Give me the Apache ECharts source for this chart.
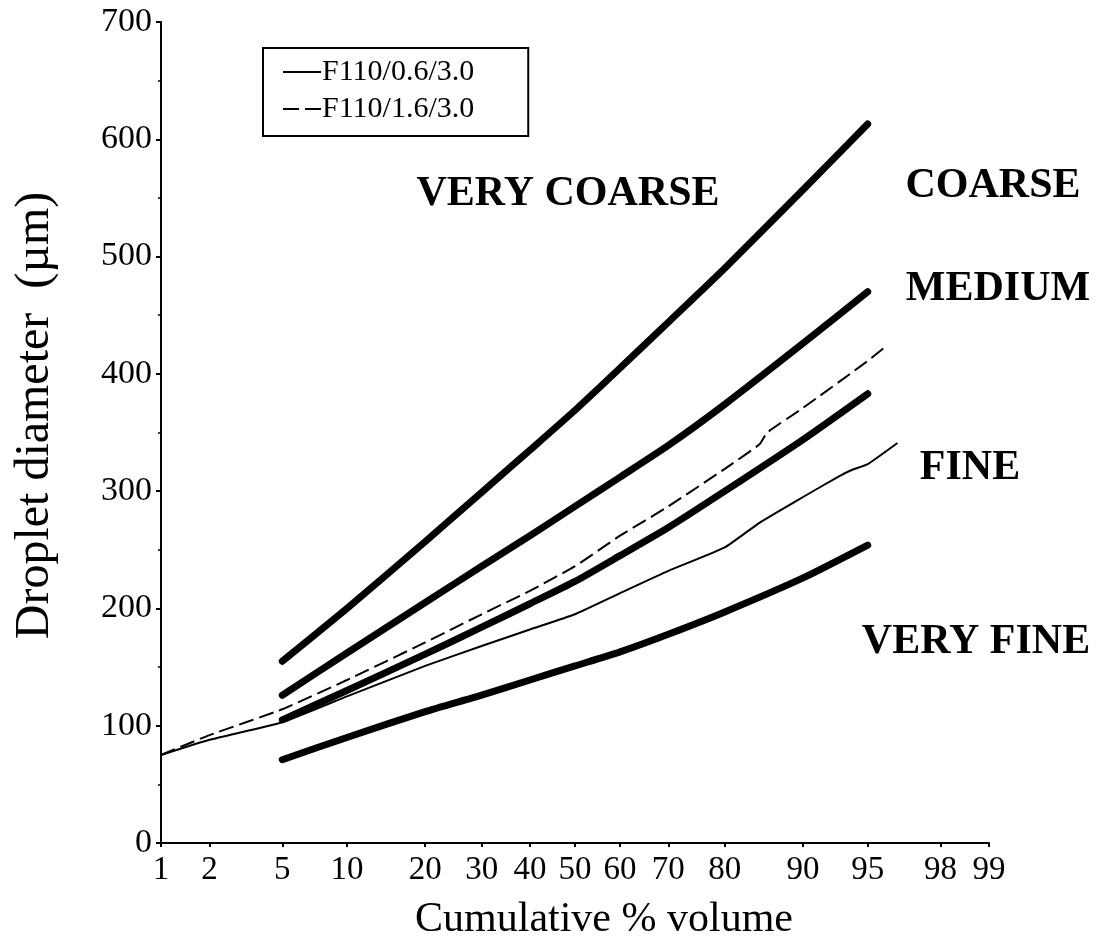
<!DOCTYPE html>
<html>
<head>
<meta charset="utf-8">
<script src="https://cdn.jsdelivr.net/npm/echarts@6/dist/echarts.min.js"></script>
<style>
  html, body { margin: 0; padding: 0; background: #fff; }
  #chart { width: 1096px; height: 944px; }
</style>
</head>
<body>
<div id="chart"></div>
<script>
// Probability-scale x axis: cumulative % volume tick positions
const tickPct = [1, 2, 5, 10, 20, 30, 40, 50, 60, 70, 80, 90, 95, 98, 99];

// Spray-class boundary curves (droplet diameter, µm) at these cumulative %
const boundaryPct = [5, 10, 20, 30, 40, 50, 60, 70, 80, 90, 95];
const veryCoarseCoarse = [155, 200, 257, 299, 335, 369, 405, 444, 490, 557, 613];
const coarseMedium     = [126, 162, 205, 236, 262, 287, 312, 339, 374, 426, 470];
const mediumFine       = [105, 130, 161, 184, 204, 223, 245, 269, 300, 344, 383];
const fineVeryFine     = [71, 90, 112, 126, 139, 151, 163, 178, 197, 226, 254];

// Measured nozzle distributions
const f06Name = 'F110/0.6/3.0';
const f06Pct = [1, 2, 5, 10, 20, 30, 40, 50, 60, 70, 80, 85, 90, 93, 94, 95, 96.5];
const f06    = [75, 88, 103, 125, 151, 168, 182, 195, 213, 232, 252, 273, 295, 312, 318, 323, 341];

const f16Name = 'F110/1.6/3.0';
const f16Pct = [1, 2, 5, 10, 20, 30, 40, 50, 60, 70, 80, 85, 86, 90, 95, 96];
const f16    = [75, 92, 114, 139, 171, 195, 215, 236, 262, 287, 319, 340, 350, 371, 411, 424];

// Spray class names
const classNames = ['VERY COARSE', 'COARSE', 'MEDIUM', 'FINE', 'VERY FINE'];

// Inverse standard normal CDF (Acklam's rational approximation)
function probit(p) {
  const a = [-3.969683028665376e+01, 2.209460984245205e+02, -2.759285104469687e+02,
             1.383577518672690e+02, -3.066479806614716e+01, 2.506628277459239e+00];
  const b = [-5.447609879822406e+01, 1.615858368580409e+02, -1.556989798598866e+02,
             6.680131188771972e+01, -1.328068155288572e+01];
  const c = [-7.784894002430293e-03, -3.223964580411365e-01, -2.400758277161838e+00,
             -2.549671010388686e+00, 4.374664141464968e+00, 2.938163982698783e+00];
  const d = [7.784695709041462e-03, 3.224671290700398e-01, 2.445134137142996e+00,
             3.754408661907416e+00];
  const pl = 0.02425, ph = 1 - pl;
  let q, r;
  if (p < pl) {
    q = Math.sqrt(-2 * Math.log(p));
    return (((((c[0]*q+c[1])*q+c[2])*q+c[3])*q+c[4])*q+c[5]) /
           ((((d[0]*q+d[1])*q+d[2])*q+d[3])*q+1);
  }
  if (p <= ph) {
    q = p - 0.5; r = q * q;
    return (((((a[0]*r+a[1])*r+a[2])*r+a[3])*r+a[4])*r+a[5])*q /
           (((((b[0]*r+b[1])*r+b[2])*r+b[3])*r+b[4])*r+1);
  }
  q = Math.sqrt(-2 * Math.log(1 - p));
  return -(((((c[0]*q+c[1])*q+c[2])*q+c[3])*q+c[4])*q+c[5]) /
          ((((d[0]*q+d[1])*q+d[2])*q+d[3])*q+1);
}

const toPoints = (pcts, vals) => pcts.map((p, i) => [probit(p / 100), vals[i]]);
const tickZ = tickPct.map(p => probit(p / 100));

const FONT = '"Liberation Serif", "Times New Roman", serif';

function boundarySeries(vals) {
  return {
    type: 'line',
    data: toPoints(boundaryPct, vals),
    symbol: 'none',
    smooth: 0.2,
    silent: true,
    color: '#000',
    lineStyle: { color: '#000', width: 7, cap: 'round', join: 'round' },
    z: 3
  };
}

const chart = echarts.init(document.getElementById('chart'), null, { renderer: 'canvas' });

chart.setOption({
  animation: false,
  backgroundColor: '#fff',
  grid: { left: 161, right: 107, top: 22, bottom: 101, containLabel: false, outerBoundsMode: 'none' },
  legend: {
    data: [
      { name: f06Name, icon: 'path://M0,0H38V2H0Z' },
      { name: f16Name, icon: 'path://M0,0H16V2H0Z M22,0H38V2H22Z' }
    ],
    orient: 'vertical',
    left: 263,
    top: 48,
    padding: [9, 54, 12, 20],
    itemGap: 7,
    itemWidth: 38,
    itemHeight: 2,
    borderColor: '#000',
    borderWidth: 2,
    borderRadius: 0,
    selectedMode: false,
    itemStyle: { color: '#000', borderWidth: 0 },
    textStyle: { fontFamily: FONT, fontSize: 30, color: '#000', lineHeight: 30, padding: [0, 0, 0, -4] }
  },
  xAxis: {
    type: 'value',
    min: probit(0.01),
    max: probit(0.99),
    name: 'Cumulative % volume',
    nameLocation: 'middle',
    nameGap: 56,
    nameTextStyle: { fontFamily: FONT, fontSize: 42, color: '#000', padding: [0, 0, 0, 58] },
    axisLine: { lineStyle: { color: '#000', width: 2 } },
    axisTick: { customValues: tickZ, length: 4, lineStyle: { color: '#000', width: 2 } },
    axisLabel: {
      customValues: tickZ,
      margin: 11,
      fontFamily: FONT,
      fontSize: 33,
      color: '#000',
      formatter: function (v) {
        let best = 0, bd = Infinity;
        tickZ.forEach((z, i) => { const d = Math.abs(z - v); if (d < bd) { bd = d; best = i; } });
        return String(tickPct[best]);
      }
    },
    splitLine: { show: false }
  },
  yAxis: {
    type: 'value',
    min: 0,
    max: 700,
    interval: 100,
    name: 'Droplet diameter  (\u00b5m)',
    nameLocation: 'middle',
    nameGap: 102,
    nameTextStyle: { fontFamily: FONT, fontSize: 48, color: '#000', padding: [0, 0, 0, 34] },
    axisLine: { show: true, onZero: false, lineStyle: { color: '#000', width: 2 } },
    axisTick: { show: true, length: 5, lineStyle: { color: '#000', width: 2 } },
    minorTick: { show: true, splitNumber: 2, length: 3, lineStyle: { color: '#000', width: 1.5 } },
    axisLabel: { margin: 9, fontFamily: FONT, fontSize: 34, color: '#000' },
    splitLine: { show: false }
  },
  series: [
    boundarySeries(veryCoarseCoarse),
    boundarySeries(coarseMedium),
    boundarySeries(mediumFine),
    boundarySeries(fineVeryFine),
    {
      name: f06Name,
      type: 'line',
      data: toPoints(f06Pct, f06),
      symbol: 'none',
      smooth: 0.15,
      color: '#000',
      lineStyle: { color: '#000', width: 2 },
      z: 4
    },
    {
      name: f16Name,
      type: 'line',
      data: toPoints(f16Pct, f16),
      symbol: 'none',
      smooth: 0.15,
      color: '#000',
      lineStyle: { color: '#000', width: 2, type: [15, 6] },
      z: 4
    }
  ],
  graphic: [
    { type: 'text', x: 568, y: 194, style: { text: classNames[0], font: 'bold 42px ' + FONT, fill: '#000', align: 'center', verticalAlign: 'middle' } },
    { type: 'text', x: 993, y: 186, style: { text: classNames[1], font: 'bold 42px ' + FONT, fill: '#000', align: 'center', verticalAlign: 'middle' } },
    { type: 'text', x: 998, y: 289, style: { text: classNames[2], font: 'bold 42px ' + FONT, fill: '#000', align: 'center', verticalAlign: 'middle' } },
    { type: 'text', x: 970, y: 468, style: { text: classNames[3], font: 'bold 42px ' + FONT, fill: '#000', align: 'center', verticalAlign: 'middle' } },
    { type: 'text', x: 976, y: 642, style: { text: classNames[4], font: 'bold 42px ' + FONT, fill: '#000', align: 'center', verticalAlign: 'middle' } }
  ]
});
</script>
</body>
</html>
